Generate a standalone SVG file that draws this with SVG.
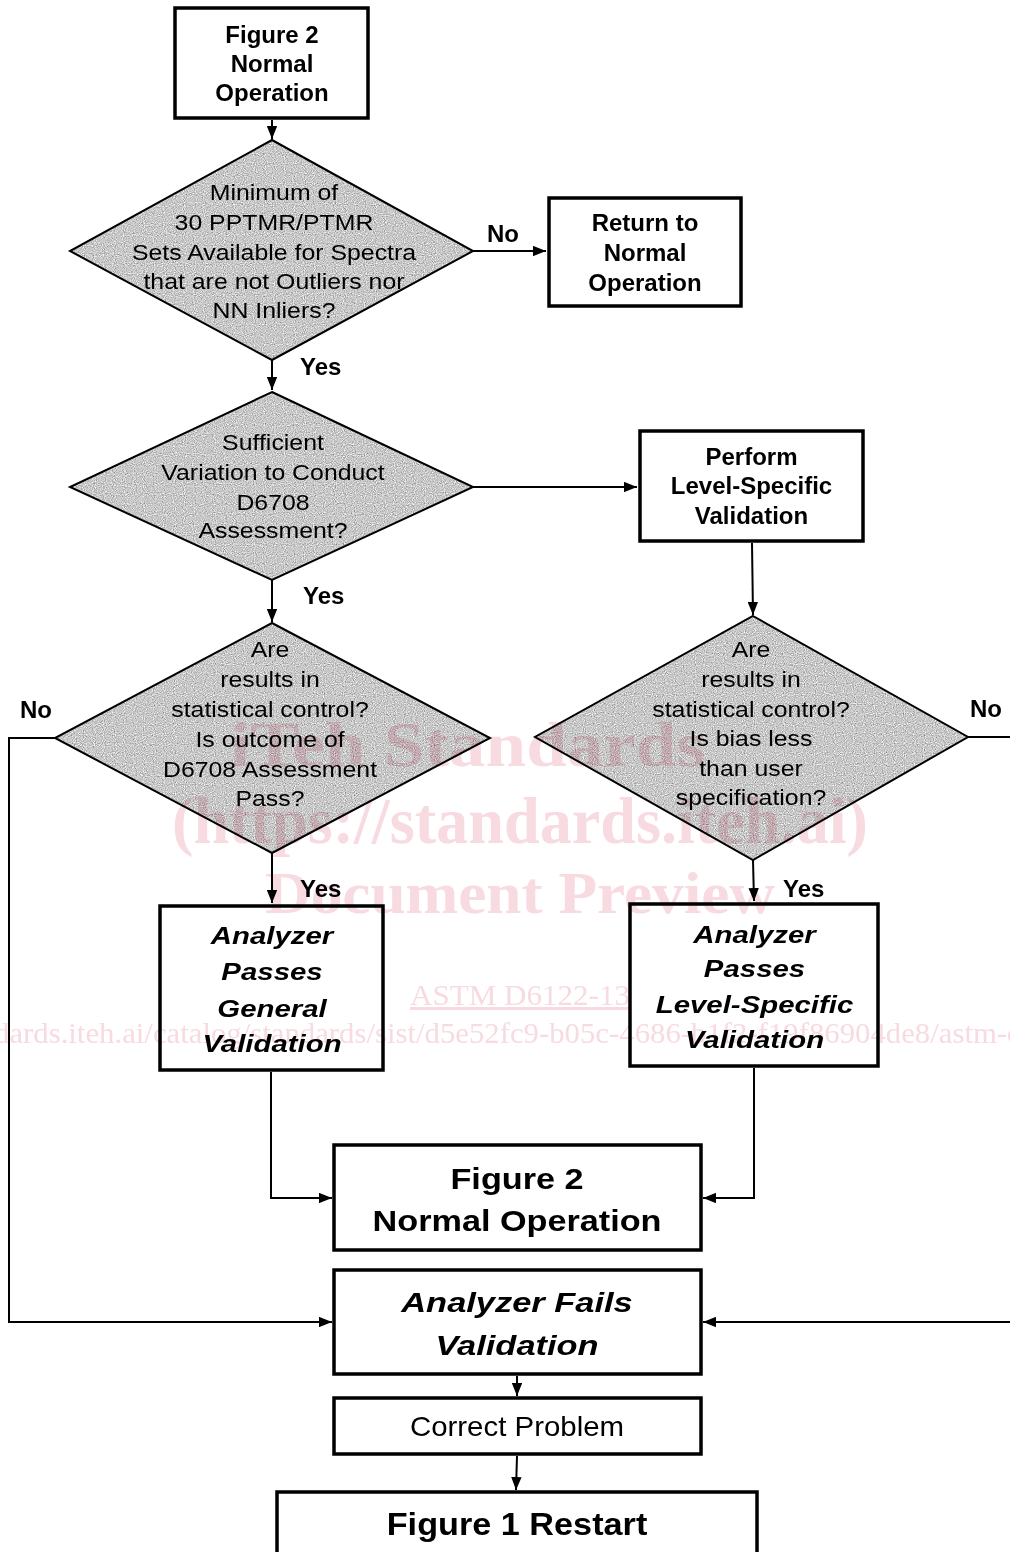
<svg xmlns="http://www.w3.org/2000/svg" width="1010" height="1552" viewBox="0 0 1010 1552">
<style>
.box{fill:#fff;stroke:#000;stroke-width:3.5}
.diaf{fill:#c4c4c4;stroke:none;filter:url(#grain)}
.dial{fill:none;stroke:#000;stroke-width:2}
.ln{fill:none;stroke:#000;stroke-width:2}
.t{font-family:"Liberation Sans",Arial,sans-serif;fill:#000;text-anchor:middle}
.r{font-size:22px}
.b{font-weight:bold;font-size:24px}
.bi{font-weight:bold;font-style:italic}
.lbl{font-family:"Liberation Sans",Arial,sans-serif;font-weight:bold;font-size:24px;fill:#000}
.wm{font-family:"Liberation Serif","Times New Roman",serif;fill:#f7dbe1;mix-blend-mode:multiply}
</style>
<defs>
<marker id="ah" viewBox="0 0 10 8" refX="10" refY="4" markerWidth="13" markerHeight="10.4" markerUnits="userSpaceOnUse" orient="auto">
<path d="M0,0 L10,4 L0,8 z" fill="#000"/>
</marker>
<filter id="grain" x="0" y="0" width="100%" height="100%" color-interpolation-filters="sRGB">
<feTurbulence type="fractalNoise" baseFrequency="0.9" numOctaves="1" seed="7" result="n"/>
<feColorMatrix in="n" type="matrix" values="0.33 0.33 0.33 0 0  0.33 0.33 0.33 0 0  0.33 0.33 0.33 0 0  0 0 0 0 1" result="g"/>
<feComponentTransfer in="g" result="c">
<feFuncR type="linear" slope="1.3" intercept="0.14"/>
<feFuncG type="linear" slope="1.3" intercept="0.14"/>
<feFuncB type="linear" slope="1.3" intercept="0.14"/>
</feComponentTransfer>
<feComposite in="c" in2="SourceAlpha" operator="in"/>
</filter>
</defs>
<rect width="1010" height="1552" fill="#fff"/>

<g id="connectors">
<path class="ln" d="M272,120 V139" marker-end="url(#ah)"/>
<path class="ln" d="M473,251 H546" marker-end="url(#ah)"/>
<path class="ln" d="M272,360 V390" marker-end="url(#ah)"/>
<path class="ln" d="M473,487 H637" marker-end="url(#ah)"/>
<path class="ln" d="M272,580 V622" marker-end="url(#ah)"/>
<path class="ln" d="M752,543 L753,615" marker-end="url(#ah)"/>
<path class="ln" d="M55,738 H9 V1322 H332" marker-end="url(#ah)"/>
<path class="ln" d="M968,737 H1012 V1322 H703" marker-end="url(#ah)"/>
<path class="ln" d="M272,853 V903" marker-end="url(#ah)"/>
<path class="ln" d="M753,860 L754,901" marker-end="url(#ah)"/>
<path class="ln" d="M271,1072 V1198 H332" marker-end="url(#ah)"/>
<path class="ln" d="M754,1068 V1198 H703" marker-end="url(#ah)"/>
<path class="ln" d="M517,1376 V1396" marker-end="url(#ah)"/>
<path class="ln" d="M517,1456 L516,1490" marker-end="url(#ah)"/>
<text class="lbl" x="487" y="242">No</text>
<text class="lbl" x="300" y="375">Yes</text>
<text class="lbl" x="303" y="604">Yes</text>
<text class="lbl" x="20" y="718">No</text>
<text class="lbl" x="970" y="717">No</text>
<text class="lbl" x="300" y="897">Yes</text>
<text class="lbl" x="783" y="897">Yes</text>
</g>

<g id="n1">
<rect class="box" x="175" y="8" width="193" height="110"/>
<text class="t b"><tspan x="272" y="43">Figure 2</tspan><tspan x="272" y="72">Normal</tspan><tspan x="272" y="101">Operation</tspan></text>
</g>

<g id="n2">
<polygon class="diaf" points="272,140 473,251 272,360 70,251"/>
<polygon class="dial" points="272,140 473,251 272,360 70,251"/>
<text class="t r" transform="translate(274 0) scale(1.13 1)"><tspan x="0" y="200">Minimum of</tspan><tspan x="0" y="230">30 PPTMR/PTMR</tspan><tspan x="0" y="260">Sets Available for Spectra</tspan><tspan x="0" y="289">that are not Outliers nor</tspan><tspan x="0" y="318">NN Inliers?</tspan></text>
</g>

<g id="n3">
<rect class="box" x="549" y="198" width="192" height="108"/>
<text class="t b"><tspan x="645" y="231">Return to</tspan><tspan x="645" y="261">Normal</tspan><tspan x="645" y="291">Operation</tspan></text>
</g>

<g id="n4">
<polygon class="diaf" points="272,392 473,487 272,580 70,487"/>
<polygon class="dial" points="272,392 473,487 272,580 70,487"/>
<text class="t r" transform="translate(273 0) scale(1.13 1)"><tspan x="0" y="450">Sufficient</tspan><tspan x="0" y="480">Variation to Conduct</tspan><tspan x="0" y="510">D6708</tspan><tspan x="0" y="538">Assessment?</tspan></text>
</g>

<g id="n5">
<rect class="box" x="640" y="431" width="223" height="110"/>
<text class="t b"><tspan x="751.5" y="465">Perform</tspan><tspan x="751.5" y="494">Level-Specific</tspan><tspan x="751.5" y="524">Validation</tspan></text>
</g>

<g id="n6">
<polygon class="diaf" points="272,623 490,738 272,853 55,738"/>
<polygon class="dial" points="272,623 490,738 272,853 55,738"/>
<text class="t r" transform="translate(270 0) scale(1.13 1)"><tspan x="0" y="657">Are</tspan><tspan x="0" y="687">results in</tspan><tspan x="0" y="717">statistical control?</tspan><tspan x="0" y="747">Is outcome of</tspan><tspan x="0" y="777">D6708 Assessment</tspan><tspan x="0" y="806">Pass?</tspan></text>
</g>

<g id="n7">
<polygon class="diaf" points="753,616 968,737 753,860 535,737"/>
<polygon class="dial" points="753,616 968,737 753,860 535,737"/>
<text class="t r" transform="translate(751 0) scale(1.13 1)"><tspan x="0" y="657">Are</tspan><tspan x="0" y="687">results in</tspan><tspan x="0" y="717">statistical control?</tspan><tspan x="0" y="746">Is bias less</tspan><tspan x="0" y="776">than user</tspan><tspan x="0" y="805">specification?</tspan></text>
</g>

<g id="n8">
<rect class="box" x="160" y="906" width="223" height="164"/>
<text class="t bi" font-size="23.5" transform="translate(272 0) scale(1.25 1)"><tspan x="0" y="944">Analyzer</tspan><tspan x="0" y="980">Passes</tspan><tspan x="0" y="1017">General</tspan><tspan x="0" y="1052">Validation</tspan></text>
</g>

<g id="n9">
<rect class="box" x="630" y="904" width="248" height="162"/>
<text class="t bi" font-size="23.5" transform="translate(754.5 0) scale(1.25 1)"><tspan x="0" y="943">Analyzer</tspan><tspan x="0" y="977">Passes</tspan><tspan x="0" y="1013">Level-Specific</tspan><tspan x="0" y="1048">Validation</tspan></text>
</g>

<g id="n10">
<rect class="box" x="334" y="1145" width="367" height="105"/>
<text class="t" font-weight="bold" font-size="29" transform="translate(517 0) scale(1.18 1)"><tspan x="0" y="1189">Figure 2</tspan><tspan x="0" y="1231">Normal Operation</tspan></text>
</g>

<g id="n11">
<rect class="box" x="334" y="1270" width="367" height="104"/>
<text class="t bi" font-size="28" transform="translate(517 0) scale(1.23 1)"><tspan x="0" y="1312">Analyzer Fails</tspan><tspan x="0" y="1355">Validation</tspan></text>
</g>

<g id="n12">
<rect class="box" x="334" y="1398" width="367" height="56"/>
<text class="t" font-size="27" transform="translate(517 0) scale(1.09 1)" x="0" y="1436">Correct Problem</text>
</g>

<g id="n13">
<rect class="box" x="277" y="1492" width="480" height="80"/>
<text class="t" font-weight="bold" font-size="32" transform="translate(517 0) scale(1.07 1)" x="0" y="1535">Figure 1 Restart</text>
</g>

<g id="watermark">
<text class="wm" font-weight="bold" font-size="64" x="230" y="766" textLength="475" lengthAdjust="spacingAndGlyphs">iTeh Standards</text>
<text class="wm" font-weight="bold" font-size="66" x="172" y="843" textLength="696" lengthAdjust="spacingAndGlyphs">(https://standards.iteh.ai)</text>
<text class="wm" font-weight="bold" font-size="60" x="265" y="913" textLength="510" lengthAdjust="spacingAndGlyphs">Document Preview</text>
<text class="wm" font-size="30" x="410" y="1005" textLength="220" lengthAdjust="spacingAndGlyphs" text-decoration="underline">ASTM D6122-13</text>
<text class="wm" font-size="30" x="-141" y="1043" textLength="1266" lengthAdjust="spacingAndGlyphs">https://standards.iteh.ai/catalog/standards/sist/d5e52fc9-b05c-4686-b1f2-f19f86904de8/astm-d6122-13</text>
</g>
</svg>
